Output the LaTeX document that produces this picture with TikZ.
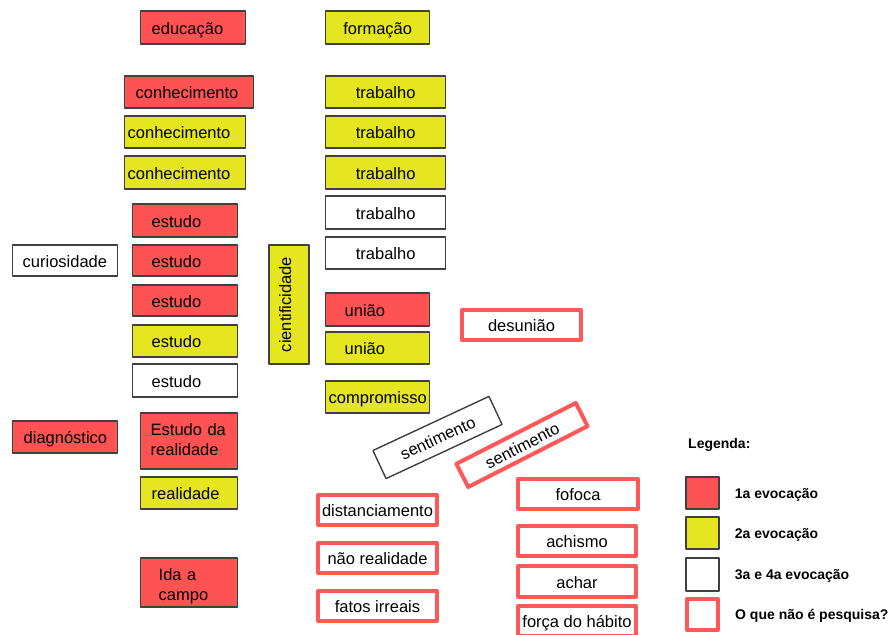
\documentclass[tikz,border=0pt]{standalone}
\usepackage{fontspec}
\setmainfont{Liberation Sans}
\usetikzlibrary{positioning}
\definecolor{evored}{RGB}{255,83,83}
\definecolor{evoyellow}{RGB}{229,229,32}
\definecolor{evoedge}{RGB}{64,64,64}
\definecolor{nopink}{RGB}{255,88,88}
\begin{document}
\begin{tikzpicture}[x=1pt, y=-1pt, line join=round, font=\fontsize{16.5}{20}\selectfont]
            \tikzset{evo/.style={draw=evoedge, line width=1.4pt, anchor=west, inner ysep=0pt, minimum height=32pt, align=left, text height=13pt, text depth=0pt},
                     first/.style={evo, fill=evored},
                     second/.style={evo, fill=evoyellow},
                     third/.style={evo, fill=white},
                     notres/.style={draw=nopink, line width=4pt, fill=white, inner sep=0pt, minimum width=119pt, minimum height=30pt, align=center, text height=13pt, text depth=0pt},
                     legend text/.style={font=\bfseries\fontsize{14}{16}\selectfont, anchor=west, inner sep=0pt, text height=10pt, text depth=0pt}}
            \useasboundingbox (0,0) rectangle (895,635);
            \node[first, text width=83pt, inner xsep=11pt, minimum height=33pt] (educacao) at (140,27.5) {educação};
            \node[second, text width=96pt, inner xsep=4pt, minimum height=33pt, align=center] (formacao) at (325,27.5) {formação};
            \node[first, text width=107pt, inner xsep=11pt] (conhec1) at (124,92) {conhecimento};
            \node[second, text width=115pt, inner xsep=3pt] (conhec2) at (124,132) {conhecimento};
            \node[second, text width=115pt, inner xsep=3pt, minimum height=33pt] (conhec3) at (124,172.5) {conhecimento};
            \node[second, text width=112pt, inner xsep=4pt, align=center] (trab1) at (325,92) {trabalho};
            \node[second, text width=112pt, inner xsep=4pt, align=center] (trab2) at (325,132) {trabalho};
            \node[second, text width=112pt, inner xsep=4pt, align=center, minimum height=33pt] (trab3) at (325,172.5) {trabalho};
            \node[third, text width=112pt, inner xsep=4pt, align=center, minimum height=33pt] (trab4) at (325,212.5) {trabalho};
            \node[third, text width=112pt, inner xsep=4pt, align=center] (trab5) at (325,253) {trabalho};
            \node[first, text width=67pt, inner xsep=19pt, minimum height=33pt] (estudo1) at (132,220.5) {estudo};
            \node[first, text width=67pt, inner xsep=19pt, minimum height=31pt] (estudo2) at (132,260.5) {estudo};
            \node[first, text width=67pt, inner xsep=19pt, minimum height=31pt] (estudo3) at (132,300.5) {estudo};
            \node[second, text width=67pt, inner xsep=19pt] (estudo4) at (132,341) {estudo};
            \node[third, text width=67pt, inner xsep=19pt, minimum height=33pt] (estudo5) at (132,380.5) {estudo};
            \node[third, text width=85pt, inner xsep=10pt, minimum height=31pt] (curiosidade) at (12,260.5) {curiosidade};
            \node[second, anchor=center, rotate=90, inner sep=0pt, minimum width=119pt, minimum height=40pt, align=center, text depth=9pt] (cientif) at (289,304.5) {cientificidade};
            \node[first, text width=66pt, inner xsep=19pt, minimum height=33pt] (uniao1) at (325,309.5) {união};
            \node[second, text width=66pt, inner xsep=19pt] (uniao2) at (325,348) {união};
            \node[second, text width=98pt, inner xsep=3pt] (compromisso) at (325,397) {compromisso};
            \node[notres] (desuniao) at (521.5,325) {desunião};
            \node[first, text width=83pt, inner xsep=11pt] (diagnostico) at (12,437) {diagnóstico};
            \node[first, text width=77pt, inner xsep=10pt, minimum height=56pt, text depth=25pt] (estudoreal) at (140,441) {Estudo da\\realidade};
            \node[second, text width=75pt, inner xsep=11pt] (realidade) at (140,493) {realidade};
            \node[first, text width=61pt, inner xsep=18pt, minimum height=49pt, text depth=18pt] (idacampo) at (140,582.5) {Ida a\\campo};
            \node[third, anchor=center, rotate=25, inner sep=0pt, minimum width=128pt, minimum height=31pt, align=center] (sent1) at (437.5,437.5) {sentimento};
            \node[notres, rotate=27, minimum width=134pt, minimum height=26pt] (sent2) at (522,445) {sentimento};
            \node[notres] (distanc) at (377.5,510) {distanciamento};
            \node[notres] (naoreal) at (377.5,558) {não realidade};
            \node[notres] (fatos) at (377.5,606) {fatos irreais};
            \node[notres, minimum width=120pt] (fofoca) at (578,494) {fofoca};
            \node[notres, minimum width=118pt] (achismo) at (577,541) {achismo};
            \node[notres, minimum width=118pt, minimum height=31pt] (achar) at (577,581.5) {achar};
            \node[notres, minimum width=118pt] (forca) at (577,621) {força do hábito};
            \node[legend text] (legenda) at (688,443.5) {Legenda:};
            \node[first, anchor=center, inner sep=0pt, minimum width=33pt, minimum height=32pt] (key1) at (702.5,493) {};
            \node[second, anchor=center, inner sep=0pt, minimum width=33pt, minimum height=32pt] (key2) at (702.5,533) {};
            \node[third, anchor=center, inner sep=0pt, minimum width=33pt, minimum height=33pt] (key3) at (702.5,574.5) {};
            \node[notres, minimum width=31pt, minimum height=31pt] (key4) at (702.5,614.5) {};
            \node[legend text, right=15pt of key1] (txt1) {1a evocação};
            \node[legend text, right=15pt of key2] (txt2) {2a evocação};
            \node[legend text, right=15pt of key3] (txt3) {3a e 4a evocação};
            \node[legend text, right=15pt of key4] (txt4) {O que não é pesquisa?};
\end{tikzpicture}
\end{document}
